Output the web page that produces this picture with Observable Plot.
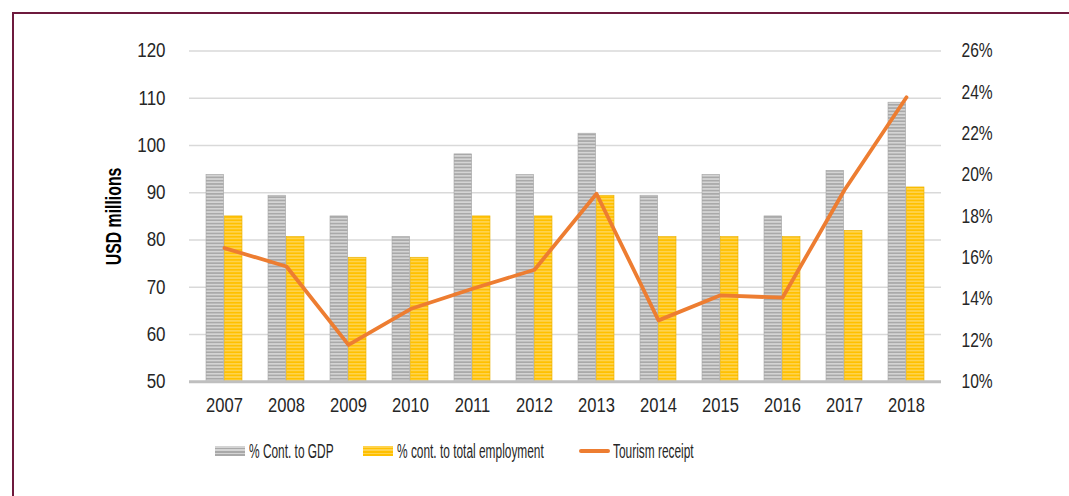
<!DOCTYPE html>
<html>
<head>
<meta charset="utf-8">
<script src="https://cdn.jsdelivr.net/npm/d3@7"></script>
<script src="https://cdn.jsdelivr.net/npm/@observablehq/plot@0.6"></script>
<style>
  html, body { margin: 0; padding: 0; background: #fff; }
  body { width: 1069px; height: 496px; position: relative; overflow: hidden;
         font-family: "Liberation Sans", Arial, sans-serif; }
  #frame { position: absolute; left: 12px; top: 12px; right: -5px; bottom: -5px;
           border-top: 2.5px solid #6e1a3d; border-left: 2.5px solid #6e1a3d; }
  #chart { position: absolute; left: 0; top: 0; }
  #legend { position: absolute; top: 439px; left: 0; width: 1069px; height: 24px;
            font-size: 19.5px; color: #262626; }
  .item { position: absolute; top: 0; height: 24px; white-space: nowrap; }
  .sw { position: absolute; top: 7px; left: 0; width: 30px; height: 10px; }
  .ln { position: absolute; top: 10px; left: 0; width: 31px; height: 4px; background: #ed7d31; border-radius: 2px; }
  .lt { position: absolute; left: 34px; top: 0; line-height: 24px; transform: scaleX(0.61); transform-origin: 0 50%; }
</style>
</head>
<body>
<div id="frame"></div>
<div id="chart"></div>
<div id="legend"></div>
<script>
const years = ["2007","2008","2009","2010","2011","2012","2013","2014","2015","2016","2017","2018"];
const gdpPct = [20, 19, 18, 17, 21, 20, 22, 19, 20, 18, 20.2, 23.5];
const employmentPct = [18, 17, 16, 16, 18, 18, 19, 17, 17, 17, 17.3, 19.4];
const receiptsUsd = [78.3, 74.4, 57.8, 65.4, 69.7, 73.7, 89.8, 63.0, 68.3, 67.8, 90.6, 110.2];
const leftTicks = [50, 60, 70, 80, 90, 100, 110, 120];
const rightTicks = [10, 12, 14, 16, 18, 20, 22, 24, 26];
const seriesNames = ["% Cont. to GDP", "% cont. to total employment", "Tourism receipt"];

// secondary axis: 10%..26% spans the same height as 50..120 USD millions
const pctToUsd = p => 50 + (p - 10) * 70 / 16;
const usdToPct = u => 10 + (u - 50) * 16 / 70;

const data = years.map((y, i) => ({
  year: y,
  gdp: pctToUsd(gdpPct[i]),
  emp: pctToUsd(employmentPct[i]),
  receipt: receiptsUsd[i]
}));

const W = 1069, H = 425;
const plot = Plot.plot({
  width: W, height: H,
  marginLeft: 189, marginRight: 128, marginTop: 50.5, marginBottom: 43.7,
  style: { fontFamily: '"Liberation Sans", Arial, sans-serif', background: "transparent", color: "#262626" },
  x: { domain: years, paddingInner: 0.415, paddingOuter: 0.2075, axis: null },
  y: { domain: [50, 120], axis: null },
  marks: [
    Plot.gridY(leftTicks.slice(1), { stroke: "#d9d9d9", strokeOpacity: 1, strokeWidth: 1.5 }),
    Plot.barY(data, { x: "year", y1: 50, y2: "gdp", fill: "url(#stripeGrey)", stroke: "#a6a6a6", strokeWidth: 0.6, insetRight: 18.35 }),
    Plot.barY(data, { x: "year", y1: 50, y2: "emp", fill: "url(#stripeYellow)", stroke: "#e8b000", strokeWidth: 0.6, insetLeft: 18.35 }),
    Plot.ruleY([50], { stroke: "#bfbfbf", strokeWidth: 3 }),
    Plot.lineY(data, { x: "year", y: "receipt", stroke: "#ed7d31", strokeWidth: 3.8, strokeLinejoin: "round", strokeLinecap: "round" }),
    Plot.axisY(leftTicks, { anchor: "left", tickSize: 0, tickPadding: 24, fontSize: 19.5, label: null }),
    Plot.axisY(rightTicks.map(pctToUsd), { anchor: "right", tickSize: 0, tickPadding: 20, fontSize: 19.5, label: null, tickFormat: d => Math.round(usdToPct(d)) + "%", textAnchor: "start" }),
    Plot.axisX(years, { anchor: "bottom", tickSize: 0, tickPadding: 16, fontSize: 19.5, label: null }),
    Plot.text(["USD millions"], { frameAnchor: "left", textAnchor: "middle", rotate: -90, dx: -76, fontSize: 22, fontWeight: "bold", fill: "#000" })
  ]
});

// stripe patterns used by the bar fills
const defs = `
<defs>
  <pattern id="stripeGrey" patternUnits="userSpaceOnUse" width="8" height="3.3">
    <rect width="8" height="3.3" fill="#d4d4d4"/>
    <rect y="1.65" width="8" height="1.65" fill="#a9a9a9"/>
  </pattern>
  <pattern id="stripeYellow" patternUnits="userSpaceOnUse" width="8" height="3.3">
    <rect width="8" height="3.3" fill="#ffd34d"/>
    <rect y="1.65" width="8" height="1.65" fill="#ffc000"/>
  </pattern>
</defs>`;
plot.insertAdjacentHTML("afterbegin", defs);

// condense the text horizontally (the reference uses a narrow face)
function squeeze(sel, k) {
  plot.querySelectorAll(sel).forEach(t => {
    t.setAttribute("transform", (t.getAttribute("transform") || "") + ` scale(${k},1)`);
  });
}
plot.querySelectorAll('g[aria-label="y-axis tick label"]').forEach(g => {
  const k = g.getAttribute("text-anchor") === "start" ? 0.8 : 0.87;
  g.querySelectorAll("text").forEach(t => t.setAttribute("transform", (t.getAttribute("transform") || "") + ` scale(${k},1)`));
});
squeeze('g[aria-label="x-axis tick label"] text', 0.85);
squeeze('g[aria-label="text"] text', 0.72);

document.getElementById("chart").appendChild(plot);

// legend
const legend = document.getElementById("legend");
const items = [
  { left: 215, sw: `<span class="sw" style="background:repeating-linear-gradient(#d4d4d4 0 1.65px,#a9a9a9 1.65px 3.3px)"></span>` },
  { left: 363, sw: `<span class="sw" style="background:repeating-linear-gradient(#ffd34d 0 1.65px,#ffc000 1.65px 3.3px)"></span>` },
  { left: 579, sw: `<span class="ln"></span>` }
];
items.forEach((it, i) => {
  const d = document.createElement("div");
  d.className = "item";
  d.style.left = it.left + "px";
  d.innerHTML = it.sw + `<span class="lt">${seriesNames[i]}</span>`;
  legend.appendChild(d);
});
</script>
</body>
</html>
